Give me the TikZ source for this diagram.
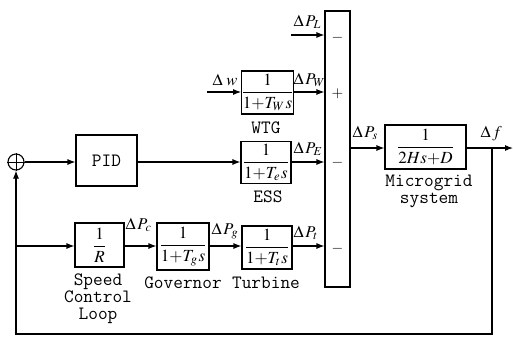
\documentclass[tikz,border=0pt]{standalone}
\usepackage{amsmath}
\usepackage{mathptmx}
\renewcommand{\ttdefault}{lmtt}
\usetikzlibrary{arrows.meta}
\begin{document}
\begin{tikzpicture}[x=1pt,y=-1pt,
  line width=1.1pt,
  blk/.style={draw,rectangle,inner sep=0pt,font=\fontsize{17}{19}\selectfont},
  lbl/.style={font=\fontsize{16.5}{19}\selectfont,inner sep=0pt},
  captxt/.style={font=\fontsize{18.8}{17}\ttfamily,align=center,inner sep=0pt},
  arr/.style={-{Latex[length=8pt,width=6pt]}},
  sgn/.style={font=\fontsize{15}{17}\selectfont,inner sep=0pt}]
\useasboundingbox (0,0) rectangle (513,338);
% blocks
\node[draw,circle,minimum size=16pt,inner sep=0pt] (sum) at (16,162) {};
\draw[line width=0.9pt] (sum.north) -- (sum.south) (sum.west) -- (sum.east);
\node[blk,minimum width=61pt,minimum height=51pt,font=\fontsize{18.8}{17}\ttfamily] (pid) at (106.5,160.5) {PID};
\node[blk,minimum width=49pt,minimum height=43pt] (wtg) at (267.5,92.5) {$\dfrac{1}{1{+}T_{W}\mkern1mu s}$};
\node[blk,minimum width=50pt,minimum height=42pt] (ess) at (266,162.5) {$\dfrac{1}{1{+}T_{e}\mkern1mu s}$};
\node[blk,minimum width=25pt,minimum height=276pt] (sig) at (337.5,149) {};
\node[blk,minimum width=81pt,minimum height=44pt] (mg) at (425.5,147) {$\dfrac{1}{2Hs{+}D}$};
\node[blk,minimum width=49pt,minimum height=44pt] (rinv) at (99.5,245) {$\dfrac{1}{R}$};
\node[blk,minimum width=52pt,minimum height=47pt] (gov) at (183,246.5) {$\dfrac{1}{1{+}T_{g}\mkern1mu s}$};
\node[blk,minimum width=50pt,minimum height=43pt] (tur) at (267,247.5) {$\dfrac{1}{1{+}T_{t}\mkern1mu s}$};
% signs
\node[sgn] (s1) at (337.5,38) {$-$};
\node[sgn] (s2) at (337.5,94) {$+$};
\node[sgn] (s3) at (337.5,163) {$-$};
\node[sgn] (s4) at (337.5,249) {$-$};
% coordinates
\coordinate (win) at (207,92);
\coordinate (plin) at (291,35);
\coordinate (fend) at (513,148);
\coordinate (br) at (492,148);
\coordinate (bl) at (16,246);
% connectors
\draw[arr] (sum.east) -- (sum.east -| pid.west);
\draw[arr] (pid.east |- sum.east) -- (ess.west |- sum.east);
\draw[arr] (win) -- (wtg.west |- win);
\draw[arr] (plin) -- (plin -| sig.west);
\draw[arr] (wtg.east |- win) -- (sig.west |- win);
\draw[arr] (ess.east |- sum.east) -- (sig.west |- sum.east);
\draw[arr] (tur.east |- bl) -- (sig.west |- bl);
\draw[arr] (sig.east |- br) -- (mg.west |- br);
\draw[arr] (mg.east |- br) -- (fend);
\draw[arr] (br) -- (492,334) -- (16,334) -- (sum.south);
\draw[arr] (bl) -- (rinv.west |- bl);
\draw[arr] (rinv.east |- bl) -- (gov.west |- bl);
\draw[arr] (gov.east |- bl) -- (tur.west |- bl);
% signal labels
\node[lbl,anchor=west] (lw) at (212,80) {$\Delta\;w$};
\node[lbl,anchor=west] (lpl) at (293,22) {$\Delta\,P_{L}$};
\node[lbl,anchor=west] (lpw) at (293,80) {$\Delta\,P_{W}$};
\node[lbl,anchor=west] (lpe) at (293,149) {$\Delta\,P_{E}$};
\node[lbl,anchor=west] (lps) at (352,133) {$\Delta\,P_{s}$};
\node[lbl,anchor=west] (lf) at (480,134) {$\Delta\,f$};
\node[lbl,anchor=west] (lpc) at (125,225) {$\Delta\,P_{c}$};
\node[lbl,anchor=west] (lpg) at (211,231) {$\Delta\,P_{g}$};
\node[lbl,anchor=west] (lpt) at (293,233) {$\Delta\,P_{t}$};
% captions
\node[captxt] (cw) at (266,128) {WTG};
\node[captxt] (ce) at (268,197) {ESS};
\node[captxt] (cm) at (429,191.5) {Microgrid\\system};
\node[captxt] (cs) at (98,298.5) {Speed\\Control\\Loop};
\node[captxt] (cg) at (183,283) {Governor};
\node[captxt] (ct) at (266,283) {Turbine};
\end{tikzpicture}
\end{document}
